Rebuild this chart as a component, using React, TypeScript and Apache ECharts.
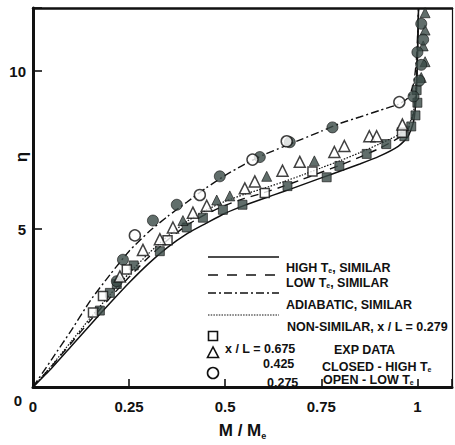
import React, { useEffect, useRef } from 'react';
import * as echarts from 'echarts';

// Shared abscissa (M / Me) for the similarity-solution curves
const curveM = [0, 0.05, 0.1, 0.15, 0.2, 0.25, 0.3, 0.35, 0.4, 0.45, 0.5, 0.55, 0.6, 0.65, 0.7, 0.75, 0.8, 0.85, 0.9, 0.95, 0.975, 0.99, 0.997, 1.0, 1.003];
const highSimilarEta = [0, 0.62, 1.3, 1.98, 2.65, 3.3, 3.9, 4.42, 4.85, 5.18, 5.5, 5.75, 5.97, 6.18, 6.4, 6.62, 6.84, 7.06, 7.3, 7.62, 7.92, 8.4, 9.2, 10.3, 12];
const lowSimilarEta = [0, 0.68, 1.4, 2.12, 2.82, 3.48, 4.1, 4.65, 5.12, 5.47, 5.75, 5.97, 6.15, 6.35, 6.57, 6.8, 7.03, 7.28, 7.55, 7.88, 8.15, 8.65, 9.5, 10.6, 12];
const adiabaticEta = [0, 0.9, 1.8, 2.75, 3.55, 4.3, 4.9, 5.4, 5.85, 6.3, 6.7, 7.05, 7.35, 7.6, 7.85, 8.1, 8.35, 8.55, 8.75, 8.95, 9.15, 9.6, 10.3, 11.0, 12];
const nonSimilarEta = [0, 0.7, 1.45, 2.2, 2.92, 3.6, 4.22, 4.77, 5.24, 5.6, 5.88, 6.1, 6.29, 6.49, 6.71, 6.94, 7.17, 7.42, 7.69, 7.98, 8.24, 8.72, 9.6, 10.7, 12];

// Experimental data, x/L = 0.675 (squares)
const sqClosedM = [0.174, 0.2, 0.218, 0.262, 0.33, 0.4, 0.442, 0.494, 0.545, 0.662, 0.764, 0.797, 0.868, 0.919, 0.966, 0.984, 0.995, 1.0, 0.998];
const sqClosedEta = [2.42, 2.98, 3.26, 3.85, 4.3, 5.05, 5.36, 5.61, 5.77, 6.36, 6.64, 7.0, 7.38, 7.69, 7.94, 8.25, 8.6, 9.0, 9.4];
const sqOpenM = [0.156, 0.182, 0.244, 0.35, 0.603, 0.727, 0.96];
const sqOpenEta = [2.36, 2.88, 3.72, 4.65, 6.14, 6.82, 8.05];

// Experimental data, x/L = 0.425 (triangles)
const triClosedM = [0.39, 0.478, 0.512, 0.608, 0.732, 1.01, 1.02, 1.015, 1.02, 1.02];
const triClosedEta = [5.27, 5.92, 6.05, 6.67, 7.16, 9.8, 10.3, 10.8, 11.3, 11.85];
const triOpenM = [0.226, 0.286, 0.33, 0.364, 0.416, 0.452, 0.551, 0.577, 0.649, 0.694, 0.784, 0.81, 0.875, 0.894, 0.961];
const triOpenEta = [3.5, 4.34, 4.68, 5.05, 5.52, 5.74, 6.29, 6.51, 6.85, 7.13, 7.44, 7.63, 7.94, 7.94, 8.31];

// Experimental data, x/L = 0.275 (circles)
const circClosedM = [0.218, 0.234, 0.312, 0.374, 0.486, 0.59, 0.668, 0.779, 0.99, 1.005, 1.01, 1.0, 1.015, 1.01];
const circClosedEta = [3.35, 4.03, 5.27, 5.77, 6.67, 7.28, 7.75, 8.22, 9.2, 9.7, 10.2, 10.6, 11.0, 11.5];
const circOpenM = [0.265, 0.434, 0.571, 0.66, 0.953];
const circOpenEta = [4.8, 6.08, 7.2, 7.78, 9.02];

const xTickValues = [0, 0.25, 0.5, 0.75, 1];
const yTickValues = [0, 5, 10];

const FONT = '"Liberation Sans", Arial, Helvetica, sans-serif';
const DARK = '#3a4a46';

const pairs = (xs: number[], ys: number[]) => xs.map((x, i) => [x, ys[i]]);

const subRich = (size: number, lineHeight?: number) => ({
  t: { fontSize: size, fontWeight: 'bold', fontFamily: FONT, fill: '#111', color: '#111', lineHeight: lineHeight ?? size + 2 },
  s: { fontSize: Math.round(size * 0.55), fontWeight: 'bold', fontFamily: FONT, fill: '#111', color: '#111', verticalAlign: 'bottom', lineHeight: lineHeight ?? size + 2 },
});

const legendText = (x: number, y: number, text: string, size = 12.5) => ({
  type: 'text',
  x,
  y,
  z: 100,
  style: {
    text,
    font: `bold ${size}px ${FONT}`,
    fill: '#111',
    verticalAlign: 'middle',
    rich: subRich(size, 12),
  },
});

export default function App() {
  const ref = useRef<HTMLDivElement>(null);

  useEffect(() => {
    if (!ref.current) return;
    const chart = echarts.init(ref.current, undefined, { renderer: 'svg' });

    const lineSeries = (name: string, ys: number[], type: any, width = 1.4) => ({
      name,
      type: 'line',
      data: pairs(curveM, ys),
      showSymbol: false,
      smooth: 0.2,
      lineStyle: { color: '#111', width, type },
      z: 3,
    });

    const scatter = (name: string, xs: number[], ys: number[], symbol: string, filled: boolean, size: number) => ({
      name,
      type: 'scatter',
      data: pairs(xs, ys),
      symbol,
      symbolSize: size,
      itemStyle: {
        color: filled ? DARK : '#fff',
        borderColor: '#111',
        borderWidth: filled ? 0.8 : 1.5,
      },
      z: filled ? 4 : 5,
    });

    const option: any = {
      animation: false,
      backgroundColor: '#fff',
      grid: { left: 33, top: 8, width: 421, height: 385, containLabel: false },
      xAxis: [
        {
          type: 'value',
          min: 0,
          max: 1.09,
          interval: 0.25,
          name: '{t|M / M}{s|e}',
          nameLocation: 'middle',
          nameGap: 34,
          nameTextStyle: { rich: subRich(17) },
          axisLine: { show: true, onZero: false, lineStyle: { color: '#111', width: 3 } },
          axisTick: { show: true, inside: true, length: 8, lineStyle: { color: '#111', width: 1.6 } },
          axisLabel: {
            margin: 12,
            color: '#111',
            fontSize: 15,
            fontWeight: 'bold',
            fontFamily: FONT,
            formatter: (v: number) => (xTickValues.some((t) => Math.abs(t - v) < 1e-6) ? String(v) : ''),
          },
          splitLine: { show: false },
        },
        {
          type: 'value',
          position: 'top',
          min: 0,
          max: 1.09,
          axisLine: { show: true, onZero: false, lineStyle: { color: '#111', width: 2.5 } },
          axisTick: { show: false },
          axisLabel: { show: false },
          splitLine: { show: false },
        },
      ],
      yAxis: [
        {
          type: 'value',
          min: 0,
          max: 12,
          interval: 5,
          axisLine: { show: true, onZero: false, lineStyle: { color: '#111', width: 3 } },
          axisTick: { show: true, inside: true, length: 9, lineStyle: { color: '#111', width: 1.6 } },
          axisLabel: {
            margin: 7,
            color: '#111',
            fontSize: 15,
            fontWeight: 'bold',
            fontFamily: FONT,
            formatter: (v: number) => {
              if (v === 0) return '{z|0}';
              return yTickValues.includes(v) ? String(v) : '';
            },
            rich: {
              z: { fontSize: 15, fontWeight: 'bold', fontFamily: FONT, color: '#111', padding: [26, 4, 0, 0] },
            },
          },
          splitLine: { show: false },
        },
        {
          type: 'value',
          position: 'right',
          min: 0,
          max: 12,
          axisLine: { show: true, onZero: false, lineStyle: { color: '#111', width: 1.2 } },
          axisTick: { show: false },
          axisLabel: { show: false },
          splitLine: { show: false },
        },
      ],
      series: [
        lineSeries('HIGH Te, SIMILAR', highSimilarEta, 'solid', 1.5),
        lineSeries('LOW Te, SIMILAR', lowSimilarEta, [8, 6]),
        lineSeries('ADIABATIC, SIMILAR', adiabaticEta, [8, 3, 2, 3]),
        lineSeries('NON-SIMILAR, x / L = 0.279', nonSimilarEta, [1.5, 1.5], 1.2),
        scatter('x/L = 0.675 closed', sqClosedM, sqClosedEta, 'rect', true, 9),
        scatter('x/L = 0.675 open', sqOpenM, sqOpenEta, 'rect', false, 9),
        scatter('x/L = 0.425 closed', triClosedM, triClosedEta, 'triangle', true, 10),
        scatter('x/L = 0.425 open', triOpenM, triOpenEta, 'triangle', false, 11),
        scatter('x/L = 0.275 closed', circClosedM, circClosedEta, 'circle', true, 11),
        scatter('x/L = 0.275 open', circOpenM, circOpenEta, 'circle', false, 11),
      ],
      graphic: [
        // y-axis title
        {
          type: 'text',
          x: 21,
          y: 157,
          rotation: Math.PI / 2,
          style: { text: 'η', font: `bold 17px ${FONT}`, fill: '#111', align: 'center', verticalAlign: 'middle' },
        },
        // legend: curve styles
        { type: 'line', shape: { x1: 208, y1: 257, x2: 279, y2: 257 }, style: { stroke: '#111', lineWidth: 1.6 } },
        legendText(286, 268, '{t|HIGH T}{s|e}{t|, SIMILAR}'),
        { type: 'line', shape: { x1: 208, y1: 275, x2: 279, y2: 275 }, style: { stroke: '#111', lineWidth: 1.5, lineDash: [10, 9] } },
        legendText(286, 283, '{t|LOW T}{s|e}{t|, SIMILAR}'),
        { type: 'line', shape: { x1: 208, y1: 293, x2: 279, y2: 293 }, style: { stroke: '#111', lineWidth: 1.5, lineDash: [8, 3, 2, 3] } },
        legendText(286, 305, '{t|ADIABATIC, SIMILAR}'),
        { type: 'line', shape: { x1: 208, y1: 315, x2: 279, y2: 315 }, style: { stroke: '#111', lineWidth: 1.2, lineDash: [1.5, 1.2] } },
        legendText(287, 327, '{t|NON-SIMILAR, x / L = 0.279}'),
        // legend: symbols
        { type: 'rect', shape: { x: 208.5, y: 331.5, width: 9, height: 9 }, style: { fill: '#fff', stroke: '#111', lineWidth: 1.6 } },
        { type: 'polygon', shape: { points: [[213, 347], [207.5, 357.5], [218.5, 357.5]] }, style: { fill: '#fff', stroke: '#111', lineWidth: 1.6 } },
        { type: 'circle', shape: { cx: 213, cy: 373, r: 5.5 }, style: { fill: '#fff', stroke: '#111', lineWidth: 1.6 } },
        legendText(225, 349, '{t|x / L = 0.675}'),
        legendText(263, 364, '{t|0.425}'),
        legendText(267, 383, '{t|0.275}'),
        legendText(334, 350, '{t|EXP DATA}'),
        legendText(322, 367, '{t|CLOSED - HIGH T}{s|e}'),
        legendText(323, 380, '{t|OPEN - LOW T}{s|e}'),
      ],
    };

    chart.setOption(option);
    return () => chart.dispose();
  }, []);

  return (
    <div
      ref={ref}
      style={{ position: 'fixed', left: 0, top: 0, width: 455, height: 445, background: '#fff' }}
    />
  );
}
